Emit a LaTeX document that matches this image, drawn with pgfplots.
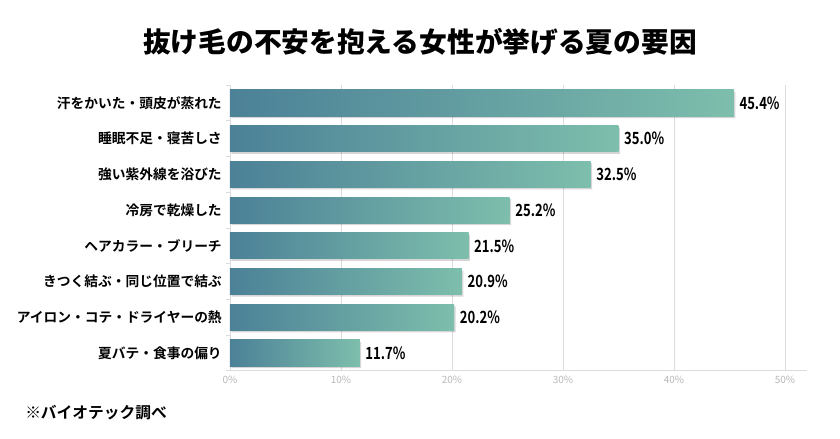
\documentclass[border=0pt]{standalone}
\usepackage{pgfplots}
\pgfplotsset{compat=1.18}
\usepackage{fontspec}
\setmainfont{Noto Sans CJK JP}[BoldFont={Noto Sans CJK JP Bold}]
\newfontfamily\blackfont{Noto Sans CJK JP Black}
\definecolor{barL}{HTML}{4C8197}
\definecolor{barR}{HTML}{7DBEAC}
\definecolor{gridc}{HTML}{DCDCDC}
\definecolor{tickc}{HTML}{B8B8B8}
\pgfplotsset{
  gbar/.style={xbar, bar width=0.73, bar shift=0pt, draw=none, left color=barL, right color=barR,
    nodes near coords={\scalebox{0.78}[1]{\bfseries\fontsize{12.6}{12.6}\selectfont\pgfmathprintnumber[fixed,fixed zerofill,precision=1,assume math mode=true]{\pgfplotspointmeta}\%}},
    nodes near coords style={anchor=west, inner sep=0pt, xshift=4pt, text=black},
    point meta=x},
}
\begin{document}
\begin{tikzpicture}[x=1pt,y=1pt]
\path[use as bounding box] (0,0) rectangle (630,329.25);
\begin{axis}[
  at={(172.5pt,51.1pt)}, anchor=south west,
  scale only axis, width=432.9pt, height=214.3pt,
  xmin=0, xmax=52, ymin=-0.5, ymax=7.5, y dir=reverse,
  axis x line*=bottom, axis y line*=left,
  axis line style={gridc, line width=0.6pt},
  xtick={0,10,20,30,40,50},
  xticklabels={0\%,10\%,20\%,30\%,40\%,50\%},
  xticklabel style={font=\fontsize{7.5}{7.5}\selectfont, text=tickc, anchor=north, inner sep=0pt, yshift=-4pt},
  xmajorgrids, major grid style={gridc, line width=0.6pt},
  ytick={0,...,7},
  yticklabels={汗をかいた・頭皮が蒸れた,睡眠不足・寝苦しさ,強い紫外線を浴びた,冷房で乾燥した,ヘアカラー・ブリーチ,きつく結ぶ・同じ位置で結ぶ,アイロン・コテ・ドライヤーの熱,夏バテ・食事の偏り},
  yticklabel style={font=\bfseries\fontsize{10.3}{10.3}\selectfont, anchor=east, inner sep=0pt, xshift=-6pt},
  minor ytick={-0.5,0.5,...,7.5},
  major tick length=0pt, minor tick length=3pt, tick align=outside,
  minor tick style={gridc, line width=0.6pt},
  x tick style={draw=none},
  clip=false,
]
\addplot[xbar, bar width=0.73, bar shift=0pt, fill=black, draw=none, opacity=0.16, xshift=1pt, yshift=-1.5pt]
  coordinates {(45.4,0) (35.0,1) (32.5,2) (25.2,3) (21.5,4) (20.9,5) (20.2,6) (11.7,7)};
\addplot[gbar] coordinates {(45.4,0)};
\addplot[gbar] coordinates {(35.0,1)};
\addplot[gbar] coordinates {(32.5,2)};
\addplot[gbar] coordinates {(25.2,3)};
\addplot[gbar] coordinates {(21.5,4)};
\addplot[gbar] coordinates {(20.9,5)};
\addplot[gbar] coordinates {(20.2,6)};
\addplot[gbar] coordinates {(11.7,7)};
\end{axis}
\node[font=\blackfont\fontsize{20.8}{20.8}\selectfont, anchor=center] at (315,297.75) {抜け毛の不安を抱える女性が挙げる夏の要因};
\node[font=\bfseries\fontsize{11.8}{11.8}\selectfont, anchor=west, inner sep=0pt] at (18.75,19.5) {※バイオテック調べ};
\end{tikzpicture}
\end{document}
